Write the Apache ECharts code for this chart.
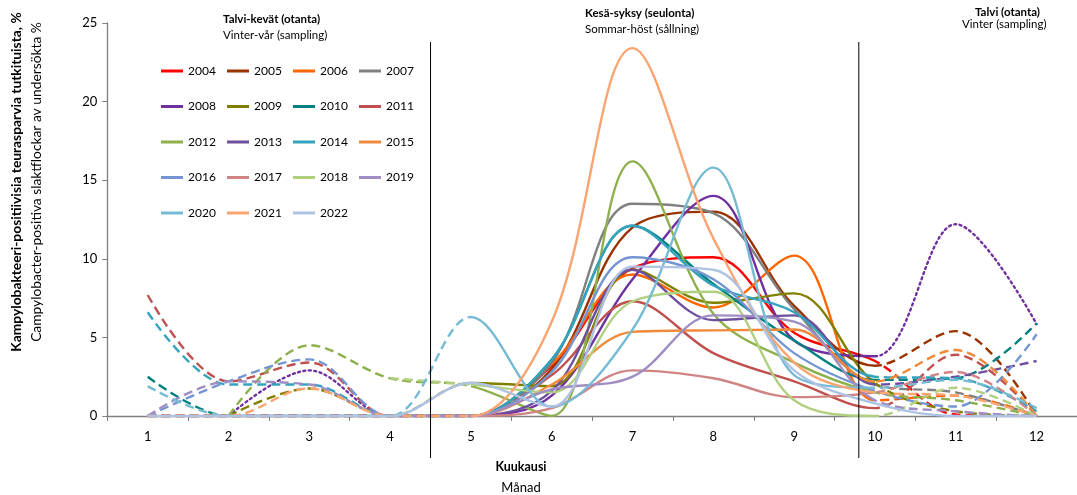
<!DOCTYPE html>
<html><head><meta charset="utf-8">
<script src="https://cdn.jsdelivr.net/npm/echarts@6/dist/echarts.min.js"></script>
<style>html,body{margin:0;padding:0;background:#fff}#c{width:1077px;height:495px}</style>
</head><body><div id="c"></div><script>
// ---- data ----
const months = ['1','2','3','4','5','6','7','8','9','10','11','12'];
const years = ['2004','2005','2006','2007','2008','2009','2010','2011','2012','2013','2014','2015','2016','2017','2018','2019','2020','2021','2022'];
const y2004 = [0,0,0,0,0, 3.2,9.4,10.1,5.3,3.5, 0.1,0];
const y2005 = [0,0,0,0,0, 3.0,12.0,13.0,7.0,3.2, 5.4,0];
const y2006 = [0,0,0,0,0, 3.3,9.0,6.9,10.2,1.0, 1.3,0];
const y2007 = [0,0,0,0,0, 3.4,13.5,12.9,6.8,2.0, 1.5,0];
const y2008 = [null,0,2.9,0,0, 1.3,8.7,14.0,4.8,3.8, 12.2,5.85];
const y2009 = [null,0,1.75,0,2.1, 1.9,9.3,7.2,7.8,2.1, 0.3,0];
const y2010 = [2.5,0,0,0,0, 3.6,12.1,8.4,4.8,2.3, 2.4,5.9];
const y2011 = [7.7,2.2,3.4,0,0, 2.6,7.3,4.0,2.2,0.5, 3.9,0];
const y2012 = [null,0,4.5,2.4,1.9, 0,16.2,6.5,3.4,1.5, 1.0,0];
const y2013 = [0,0,0,0,0, 1.6,9.3,6.1,6.4,2.0, 2.5,3.5];
const y2014 = [6.6,2.0,2.0,0,0, 3.6,12.1,8.3,6.6,2.5, 2.4,0.3];
const y2015 = [0,0,0,0,0, 2.0,5.35,5.45,5.5,2.2, 4.2,0];
const y2016 = [0,2.2,3.6,0,0, 2.8,10.1,8.7,4.0,1.6, 0.6,5.2];
const y2017 = [0,0,0,0,0, 0.5,2.9,2.4,1.2,1.5, 2.8,0];
const y2018 = [null,null,null,2.4,2.0, 1.5,7.3,7.9,1.0,0, 1.8,0];
const y2019 = [0,2.2,2.0,0,0, 1.7,2.5,6.4,6.0,1.0, 0.3,0];
const y2020 = [1.9,0,0,0,6.3, 0.6,5.5,15.8,2.6,1.8, 2.3,0.5];
const y2021 = [0,0,1.75,0,0, 6.0,23.4,11.3,3.4,1.5, 1.3,0];
const y2022 = [0,0,0,0,2.1, 0.6,9.5,9.3,2.9,0.8, 0,0];
const yearData = [y2004,y2005,y2006,y2007,y2008,y2009,y2010,y2011,y2012,y2013,y2014,y2015,y2016,y2017,y2018,y2019,y2020,y2021,y2022];
const yTicks = [0,5,10,15,20,25];
const summerRange = [4, 9];   // category indices (May .. October) drawn solid
const dividers = [4.5, 9.8];  // month positions of period separators

// ---- styles ----
const colors = ['#FF0000','#993300','#FF6600','#808080','#7030A0','#808000','#008080','#C0504D','#8EB04C','#6E4F9E','#34A3BE','#EE8A3A','#7396D3','#D08584','#B0D080','#9F8DC3','#76BBD3','#FAA472','#AEC3E3'];
const FONT = 'Lato';
const CLEAR = 'rgba(255,255,255,0)';
const DASH = [9,5];
const DOT = [2,3.5];

const series = [];
const visualMaps = [];
years.forEach((y,i)=>{
  const c = colors[i];
  const allSolid = (y === '2022');
  // off-season (sampling) part: dashed / dotted
  if (!allSolid) {
    series.push({
      name: y+'_otanta', type:'line', data: yearData[i], smooth:0.35, symbol:'none', silent:true,
      lineStyle:{width:2.4, type: y==='2008' ? DOT : DASH, cap: y==='2008' ? 'round' : 'butt'},
      itemStyle:{color:c}, emphasis:{disabled:true}
    });
    visualMaps.push({type:'piecewise', show:false, dimension:0, seriesIndex: series.length-1,
      pieces:[{lte:summerRange[0], color:c}, {gte:summerRange[1], color:c}],
      outOfRange:{color:CLEAR}});
  }
  // season (screening) part: solid
  series.push({
    name: y, type:'line', data: yearData[i], smooth:0.35, symbol:'none', silent:true,
    lineStyle:{width:2.4, type:'solid'},
    itemStyle:{color:c}, emphasis:{disabled:true}
  });
  if (!allSolid) {
    visualMaps.push({type:'piecewise', show:false, dimension:0, seriesIndex: series.length-1,
      pieces:[{gte:summerRange[0], lte:summerRange[1], color:c}],
      outOfRange:{color:CLEAR}});
  }
});

const legends = years.map((y,i)=>({
  data:[y], left:161 + 66*(i%4), top: 65 + 35.5*Math.floor(i/4),
  icon:'rect', itemWidth:22, itemHeight:3, itemGap:0, padding:0,
  textStyle:{fontFamily:FONT, fontSize:12, color:'#000'}
}));

const txt = (text, x, y, size, bold, align) => ({type:'text', x, y, silent:true,
  style:{text, fill:'#000', font:(bold?'bold ':'')+size+'px '+FONT, align:align||'left', verticalAlign:'middle'}});

const chart = echarts.init(document.getElementById('c'), null, {renderer:'canvas'});
chart.setOption({
  animation:false,
  backgroundColor:'#fff',
  grid:{left:107.3, right:-7, top:23, bottom:79, containLabel:false},
  legend: legends,
  visualMap: visualMaps,
  xAxis:{type:'category', data:months, boundaryGap:true,
    axisLine:{lineStyle:{color:'#7f7f7f', width:1.3}},
    axisTick:{show:true, inside:false, length:5, lineStyle:{color:'#7f7f7f'}},
    axisLabel:{fontFamily:FONT, fontSize:13, color:'#000', margin:14},
    splitLine:{show:false}},
  yAxis:{type:'value', min:yTicks[0], max:yTicks[yTicks.length-1], interval:5,
    axisLine:{show:true, lineStyle:{color:'#7f7f7f', width:1.3}},
    axisTick:{show:true, inside:false, length:5, lineStyle:{color:'#7f7f7f'}},
    axisLabel:{fontFamily:FONT, fontSize:13, color:'#000', margin:10},
    splitLine:{show:false}},
  series
});

// separators and texts
function monthPx(m){
  const i = Math.floor(m) - 1, f = m - Math.floor(m);
  const p0 = chart.convertToPixel({xAxisIndex:0}, months[i]);
  const p1 = chart.convertToPixel({xAxisIndex:0}, months[i+1]);
  return p0 + (p1-p0)*f;
}
const graphics = dividers.map(m=>({type:'line', silent:true, z:50,
  shape:{x1:monthPx(m), y1:42, x2:monthPx(m), y2:458}, style:{stroke:'#000', lineWidth:1}}));
graphics.push(
  txt('Talvi-kevät (otanta)', 223, 19, 11.5, true),
  txt('Vinter-vår (sampling)', 223, 35, 11.5, false),
  txt('Kesä-syksy (seulonta)', 585, 13, 11.5, true),
  txt('Sommar-höst (sållning)', 585, 29, 11.5, false),
  txt('Talvi (otanta)', 1040, 12, 11.5, true, 'right'),
  txt('Vinter (sampling)', 962, 24, 11.5, false),
  txt('Kuukausi', 521, 467, 12.5, true, 'center'),
  txt('Månad', 521, 488, 13, false, 'center'),
  Object.assign(txt('Kampylobakteeri-positiivisia teurasparvia tutkituista, %', 17, 182, 13.8, true, 'center'), {rotation:Math.PI/2}),
  Object.assign(txt('Campylobacter-positiva slaktflockar av undersökta %', 37, 182, 13.8, false, 'center'), {rotation:Math.PI/2})
);
chart.setOption({graphic: graphics});
</script></body></html>
